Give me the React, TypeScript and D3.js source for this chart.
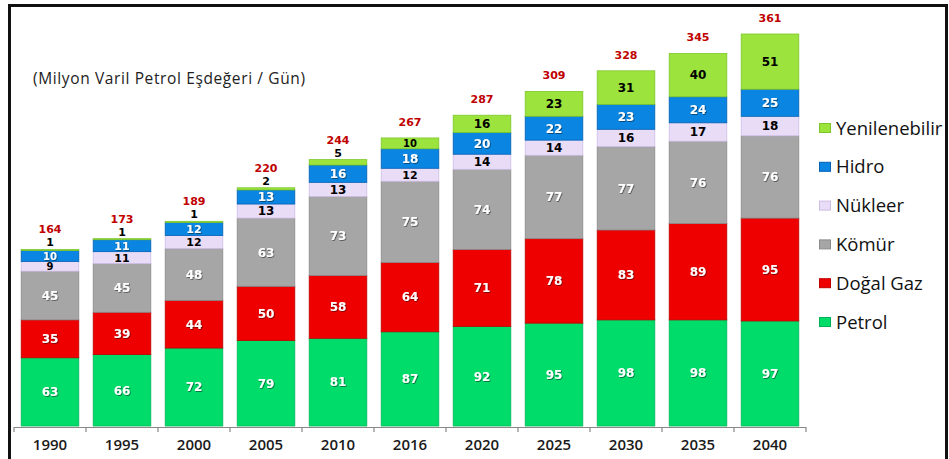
import React, { useEffect, useRef } from 'react'
import * as d3 from 'd3'

const years = ['1990', '1995', '2000', '2005', '2010', '2016', '2020', '2025', '2030', '2035', '2040']
const petrol = [63, 66, 72, 79, 81, 87, 92, 95, 98, 98, 97]
const dogalGaz = [35, 39, 44, 50, 58, 64, 71, 78, 83, 89, 95]
const komur = [45, 45, 48, 63, 73, 75, 74, 77, 77, 76, 76]
const nukleer = [9, 11, 12, 13, 13, 12, 14, 14, 16, 17, 18]
const hidro = [10, 11, 12, 13, 16, 18, 20, 22, 23, 24, 25]
const yenilenebilir = [1, 1, 1, 2, 5, 10, 16, 23, 31, 40, 51]
const totals = [164, 173, 189, 220, 244, 267, 287, 309, 328, 345, 361]

const series = [
  { name: 'Petrol', values: petrol, color: '#00dc6a', edge: '#00b455', text: '#fff' },
  { name: 'Doğal Gaz', values: dogalGaz, color: '#ee0000', edge: '#c00000', text: '#fff' },
  { name: 'Kömür', values: komur, color: '#a6a6a6', edge: '#8a8a8a', text: '#fff' },
  { name: 'Nükleer', values: nukleer, color: '#e8dcf6', edge: '#cdbde6', text: '#000' },
  { name: 'Hidro', values: hidro, color: '#0a86e2', edge: '#0060b4', text: '#fff' },
  { name: 'Yenilenebilir', values: yenilenebilir, color: '#9ce33e', edge: '#7cc62a', text: '#000' },
]

const App = () => {
  const ref = useRef<SVGSVGElement>(null)

  useEffect(() => {
    const svg = d3.select(ref.current)
    svg.selectAll('*').remove()

    const defs = svg.append('defs')
    const f = defs.append('filter').attr('id', 'sh').attr('x', '-20%').attr('y', '-20%').attr('width', '140%').attr('height', '140%')
    f.append('feDropShadow').attr('dx', 0.8).attr('dy', 0.8).attr('stdDeviation', 0.6).attr('flood-color', '#000').attr('flood-opacity', 0.55)

    const x = d3.scaleBand().domain(years).range([14, 806]).paddingInner(0.2).paddingOuter(0.1)
    const y = d3.scaleLinear().domain([0, 362]).range([426, 34])

    const rows = years.map((yr, i) => {
      const r: any = { year: yr }
      series.forEach((s) => (r[s.name] = s.values[i]))
      return r
    })
    const stack = d3.stack().keys(series.map((s) => s.name))(rows)

    // frame
    svg.append('rect').attr('x', 9.5).attr('y', 5.5).attr('width', 937).attr('height', 480)
      .attr('fill', '#fff').attr('stroke', '#111').attr('stroke-width', 3)

    svg.append('text').attr('x', 33).attr('y', 84).attr('font-family', 'Open Sans')
      .attr('font-size', 15.5).attr('fill', '#222').attr('textLength', 272)
      .text('(Milyon Varil Petrol Eşdeğeri / Gün)')

    stack.forEach((layer, si) => {
      const s = series[si]
      const g = svg.append('g')
      g.selectAll('rect').data(layer).enter().append('rect')
        .attr('x', (d: any) => x(d.data.year)!)
        .attr('y', (d) => y(d[1]))
        .attr('width', x.bandwidth())
        .attr('height', (d) => y(d[0]) - y(d[1]))
        .attr('fill', s.color)
        .attr('stroke', s.edge)
        .attr('stroke-width', 0.8)

      layer.forEach((d: any, i) => {
        const v = s.values[i]
        const h = y(d[0]) - y(d[1])
        const cx = x(d.data.year)! + x.bandwidth() / 2
        const small = h < 9
        const cy = small ? y(d[1]) - 7 : (y(d[0]) + y(d[1])) / 2
        const fs = h < 11.5 ? 10 : h < 13 ? 11 : 12
        const t = g.append('text').attr('x', cx).attr('y', cy).attr('dy', '0.36em')
          .attr('text-anchor', 'middle').attr('font-family', 'DejaVu Sans')
          .attr('font-weight', 'bold').attr('font-size', small ? 11 : fs).attr('fill', small ? '#000' : s.text)
          .text(v)
        if (!small && s.text === '#fff') t.attr('filter', 'url(#sh)')
      })
    })

    // totals
    svg.append('g').selectAll('text').data(stack[stack.length - 1]).enter().append('text')
      .attr('x', (d: any) => x(d.data.year)! + x.bandwidth() / 2)
      .attr('y', (d, i) => y(d[1]) - (yenilenebilir[i] < 8 ? 20 : 16))
      .attr('dy', '0.36em')
      .attr('text-anchor', 'middle').attr('font-family', 'DejaVu Sans').attr('font-weight', 'bold')
      .attr('font-size', 11).attr('fill', '#c00000')
      .text((d, i) => totals[i])

    // axis
    const ax = svg.append('g')
    ax.append('line').attr('x1', 14).attr('x2', 806).attr('y1', 427.5).attr('y2', 427.5)
      .attr('stroke', '#888').attr('stroke-width', 1.2)
    d3.range(years.length + 1).forEach((i) => {
      const tx = 14 + i * x.step()
      ax.append('line').attr('x1', tx).attr('x2', tx).attr('y1', 427).attr('y2', 432)
        .attr('stroke', '#888').attr('stroke-width', 1.2)
    })
    ax.selectAll('text.yr').data(years).enter().append('text')
      .attr('x', (d) => x(d)! + x.bandwidth() / 2).attr('y', 450)
      .attr('text-anchor', 'middle').attr('font-family', 'Open Sans').attr('font-size', 15)
      .attr('font-weight', 600).attr('fill', '#1a1a1a').text((d) => d)

    // legend
    const leg = svg.append('g')
    series.slice().reverse().forEach((s, i) => {
      const ly = 128 + i * 38.8
      leg.append('rect').attr('x', 819.5).attr('y', ly - 4.5).attr('width', 11).attr('height', 9)
        .attr('fill', s.color).attr('stroke', s.edge).attr('stroke-width', 1)
      leg.append('text').attr('x', 836).attr('y', ly).attr('dy', '0.36em')
        .attr('font-family', 'Open Sans').attr('font-size', 18.5).attr('fill', '#111').text(s.name)
    })
  }, [])

  return (
    <svg ref={ref} width={949} height={459}
      style={{ position: 'absolute', left: 0, top: 0, display: 'block', background: '#fff' }} />
  )
}

export default App
